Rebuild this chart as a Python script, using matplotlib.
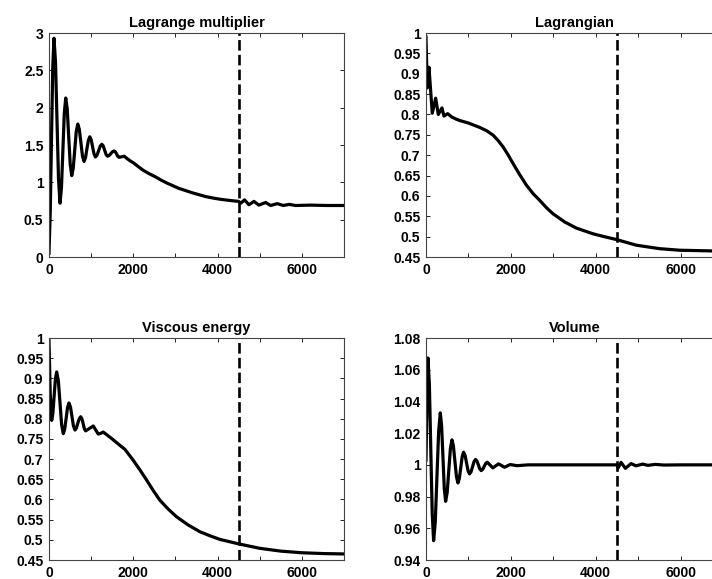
import numpy as np
import matplotlib.pyplot as plt

plt.rcParams['font.family'] = ['Liberation Sans', 'DejaVu Sans']
plt.rcParams['font.weight'] = 'bold'

# x positions (iterations) and values
lm_x = [0, 30, 60, 90, 119, 155, 190, 226, 262, 296, 330, 363, 397, 433, 468, 504, 540,
        576, 612, 647, 683, 720, 758, 795, 833, 867, 900, 934, 968, 1002, 1035, 1069, 1103,
        1141, 1178, 1216, 1254, 1288, 1321, 1355, 1388, 1428, 1467, 1507, 1547, 1577, 1606,
        1636, 1666, 1725, 1785, 1850, 1920, 2007, 2120, 2240, 2380, 2523, 2660, 2800, 2940,
        3078, 3240, 3400, 3560, 3714, 3890, 4070, 4280, 4500, 4550, 4640, 4745, 4863, 4981,
        5141, 5260, 5418, 5560, 5700, 5850, 6200, 6600, 7000]
lm_y = [0.05, 0.6, 1.6, 2.55, 2.93, 2.61, 1.83, 1.04, 0.72, 0.93, 1.43, 1.92, 2.13, 1.98,
        1.61, 1.24, 1.09, 1.19, 1.44, 1.68, 1.78, 1.71, 1.53, 1.35, 1.28, 1.33, 1.45, 1.56,
        1.61, 1.57, 1.475, 1.38, 1.34, 1.365, 1.425, 1.485, 1.51, 1.487, 1.43, 1.373, 1.35,
        1.36, 1.385, 1.41, 1.42, 1.408, 1.378, 1.347, 1.335, 1.343, 1.35, 1.32, 1.29, 1.26,
        1.21, 1.16, 1.115, 1.075, 1.03, 0.99, 0.955, 0.92, 0.89, 0.86, 0.835, 0.81, 0.79,
        0.773, 0.758, 0.745, 0.72, 0.765, 0.70, 0.745, 0.695, 0.73, 0.69, 0.715, 0.69, 0.705,
        0.69, 0.695, 0.69, 0.69]

lg_x = [0, 30, 70, 148, 228, 290, 376, 424, 510, 605, 722, 800, 1000, 1270, 1430, 1584,
        1700, 1820, 1940, 2055, 2210, 2370, 2530, 2682, 2840, 2996, 3270, 3545, 3937, 4200,
        4486, 4957, 5506, 5976, 6730, 7000]
lg_y = [0.99, 0.865, 0.916, 0.803, 0.84, 0.80, 0.816, 0.796, 0.802, 0.794, 0.788, 0.785,
        0.779, 0.768, 0.76, 0.749, 0.736, 0.72, 0.70, 0.679, 0.652, 0.626, 0.605, 0.589,
        0.571, 0.556, 0.536, 0.521, 0.507, 0.5, 0.493, 0.479, 0.4705, 0.4667, 0.465, 0.464]

ve_x = [0, 30, 63, 93, 122, 152, 182, 222, 261, 300, 340, 373, 407, 440, 474, 510, 545, 581,
        617, 651, 684, 718, 752, 781, 811, 840, 870, 960, 1051, 1110, 1170, 1229, 1288, 1487,
        1684, 1803, 2000, 2160, 2317, 2475, 2633, 2830, 3029, 3300, 3582, 3820, 4057, 4500,
        5000, 5500, 6000, 6500, 7000]
ve_y = [0.994, 0.86, 0.796, 0.814, 0.856, 0.898, 0.916, 0.894, 0.84, 0.785, 0.763, 0.774,
        0.801, 0.828, 0.839, 0.829, 0.806, 0.782, 0.772, 0.777, 0.789, 0.8, 0.805, 0.8, 0.788,
        0.775, 0.77, 0.776, 0.782, 0.772, 0.762, 0.764, 0.767, 0.751, 0.734, 0.724, 0.697,
        0.673, 0.648, 0.622, 0.598, 0.576, 0.557, 0.537, 0.520, 0.51, 0.501, 0.49, 0.479,
        0.472, 0.468, 0.466, 0.465]

vo_x = [0, 20, 47, 80, 113, 147, 180, 219, 258, 298, 337, 368, 400, 431, 463, 500, 537, 575,
        612, 647, 682, 718, 753, 786, 820, 853, 886, 921, 956, 992, 1027, 1062, 1098, 1133,
        1169, 1202, 1236, 1269, 1302, 1337, 1372, 1408, 1443, 1510, 1576, 1643, 1710, 1780,
        1851, 1984, 2150, 2400, 3000, 4000, 4500, 4530, 4598, 4700, 4833, 4950, 5106, 5230,
        5400, 5600, 6000, 7000]
vo_y = [1.003, 1.035, 1.0674, 1.0506, 1.0098, 0.969, 0.9522, 0.964, 0.9925, 1.021, 1.0328,
        1.0247, 1.0049, 0.9851, 0.977, 0.9827, 0.9964, 1.0101, 1.0158, 1.0118, 1.0022,
        0.9926, 0.9886, 0.9914, 0.9983, 1.0052, 1.008, 1.006, 1.0012, 0.9963, 0.9943, 0.9956,
        0.9989, 1.0021, 1.0034, 1.0024, 0.9999, 0.9974, 0.9964, 0.9972, 0.999, 1.0009,
        1.0017, 0.9999, 0.9981, 0.9994, 1.0006, 0.9996, 0.9985, 1.0002, 0.9995, 1.0, 1.0,
        1.0, 1.0, 0.9981, 1.0016, 0.9978, 1.0008, 0.9994, 1.0005, 0.9997, 1.0003, 0.9999,
        1.0, 1.0]

switch_x = 4500
xticks = [0, 1000, 2000, 3000, 4000, 5000, 6000, 7000]
xtick_labels = ['0', '', '2000', '', '4000', '', '6000', '']
lm_yticks = [0, 0.5, 1, 1.5, 2, 2.5, 3]
ve_yticks = [0.45, 0.5, 0.55, 0.6, 0.65, 0.7, 0.75, 0.8, 0.85, 0.9, 0.95, 1]
vo_yticks = [0.94, 0.96, 0.98, 1.0, 1.02, 1.04, 1.06, 1.08]

fig = plt.figure(figsize=(7.12, 5.79), dpi=100)


def panel(rect, x, y, title, yticks):
    ax = fig.add_axes(rect)
    ax.plot(x, y, color='black', lw=2.3, solid_joinstyle='round')
    ax.axvline(switch_x, color='black', lw=1.9, linestyle=(0, (4, 1.6)))
    ax.set_xlim(0, 7000)
    ax.set_ylim(yticks[0], yticks[-1])
    ax.set_xticks(xticks)
    ax.set_xticklabels(xtick_labels)
    ax.set_yticks(yticks)
    ax.set_yticklabels(['%g' % v for v in yticks])
    ax.tick_params(direction='in', top=True, right=True, length=3, width=0.6,
                   labelsize=10, pad=4, colors='black')
    for s in ax.spines.values():
        s.set_color('#444444')
        s.set_linewidth(0.8)
    ax.set_title(title, fontsize=10.5, fontweight='bold', pad=4)
    return ax


panel([0.0688, 0.5561, 0.4143, 0.3869], lm_x, lm_y, 'Lagrange multiplier', lm_yticks)
panel([0.5983, 0.5561, 0.4171, 0.3869], lg_x, lg_y, 'Lagrangian', ve_yticks)
panel([0.0688, 0.0328, 0.4143, 0.3834], ve_x, ve_y, 'Viscous energy', ve_yticks)
panel([0.5983, 0.0328, 0.4171, 0.3834], vo_x, vo_y, 'Volume', vo_yticks)

fig.savefig('out.png', dpi=100)
